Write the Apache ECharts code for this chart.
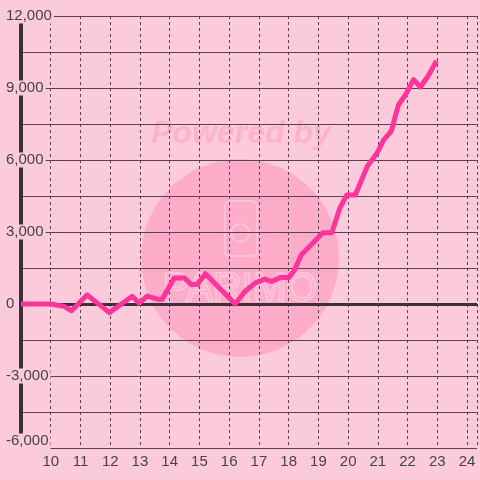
<!DOCTYPE html>
<html>
<head>
<meta charset="utf-8">
<script src="https://cdn.jsdelivr.net/npm/echarts@6/dist/echarts.min.js"></script>
<style>
html,body{margin:0;padding:0;background:#fccbdb;}
#c{width:480px;height:480px;}
</style>
</head>
<body>
<div id="c"></div>
<script>
// x positions (hours) and values
var xs = [9.0, 10.0, 10.45, 10.7, 11.22, 11.97, 12.74, 12.97, 13.24, 13.6, 13.75, 14.15, 14.5, 14.73, 14.93, 15.2, 16.2, 16.53, 16.87, 17.2, 17.43, 17.72, 18.0, 18.2, 18.42, 19.15, 19.45, 19.72, 19.95, 20.24, 20.65, 20.97, 21.19, 21.45, 21.69, 21.92, 22.2, 22.43, 22.69, 22.97];
var values = [0, 0, -100, -280, 380, -360, 320, 30, 330, 200, 200, 1080, 1080, 800, 820, 1260, 0, 520, 870, 1040, 940, 1100, 1100, 1420, 2040, 2970, 2970, 3990, 4540, 4540, 5750, 6280, 6830, 7200, 8290, 8700, 9350, 9040, 9500, 10130];
var xTickLabels = [10, 11, 12, 13, 14, 15, 16, 17, 18, 19, 20, 21, 22, 23, 24];
var yTickLabels = [-6000, -3000, 0, 3000, 6000, 9000, 12000];

var pts = xs.map(function (x, i) { return [x, values[i]]; });
var chart = echarts.init(document.getElementById('c'));
var bg = '#fccbdb';
var fontFamily = '"Liberation Sans", Arial, sans-serif';

chart.setOption({
  backgroundColor: bg,
  animation: false,
  graphic: [
    { type: 'circle', z: -10, shape: { cx: 240, cy: 258, r: 99 }, style: { fill: '#fdadca' } },
    { type: 'text', z: -10, x: 241, y: 134, style: { text: 'Powered by', fill: '#ffb2cd', font: 'italic bold 32px "Liberation Sans", Arial, sans-serif', textAlign: 'center', textVerticalAlign: 'middle' } },
    { type: 'rect', z: -9, shape: { x: 225, y: 201, width: 32, height: 55, r: 5 }, style: { fill: 'none', stroke: '#ffc2da', lineWidth: 2 } },
    { type: 'circle', z: -9, shape: { cx: 240, cy: 233, r: 9 }, style: { fill: 'none', stroke: '#ffc2da', lineWidth: 2 } },
    { type: 'text', z: -9, x: 240, y: 290, style: { text: 'PARIMO', fill: 'none', stroke: '#ffc2da', lineWidth: 2, font: '40px "Liberation Sans", Arial, sans-serif', textAlign: 'center', textVerticalAlign: 'middle' } }
  ],
  grid: { left: 21, right: -1, top: 16, bottom: 32 },
  xAxis: {
    type: 'value',
    min: 9, max: 24.3333, interval: 1,
    axisLine: { show: false },
    axisTick: { show: false },
    splitLine: { show: true, lineStyle: { color: '#5a4150', width: 1, type: [3, 3] } },
    axisLabel: {
      color: '#444', fontSize: 15, fontFamily: fontFamily, margin: 6,
      formatter: function (v) { return xTickLabels.indexOf(v) >= 0 ? String(v) : ''; }
    }
  },
  yAxis: {
    type: 'value',
    min: -6000, max: 12000, interval: 1500,
    axisLine: { show: true, lineStyle: { color: '#3a3035', width: 4 } },
    axisTick: { show: false },
    splitLine: { show: true, lineStyle: { color: '#5a4150', width: 1 } },
    axisLabel: {
      color: '#444', fontSize: 15, fontFamily: fontFamily, align: 'left', margin: 15,
      backgroundColor: bg, padding: [0, 2, 0, 0],
      formatter: function (v) {
        if (yTickLabels.indexOf(v) < 0) return '';
        var s = v.toLocaleString('en-US');
        return v === yTickLabels[0] ? '{u|' + s + '}' : s;
      },
      rich: { u: { color: '#444', fontSize: 15, fontFamily: fontFamily, padding: [0, 0, 14, 0] } }
    }
  },
  series: [
    {
      type: 'line', z: 1, data: [], silent: true,
      markLine: {
        silent: true, symbol: 'none', label: { show: false },
        lineStyle: { color: '#3a3035', width: 3, type: 'solid' },
        data: [{ yAxis: 0 }]
      }
    },
    {
      type: 'line', z: 5, data: pts, showSymbol: false, symbol: 'none',
      lineStyle: { color: '#fd3499', width: 5, join: 'round' }
    }
  ]
});
</script>
</body>
</html>
